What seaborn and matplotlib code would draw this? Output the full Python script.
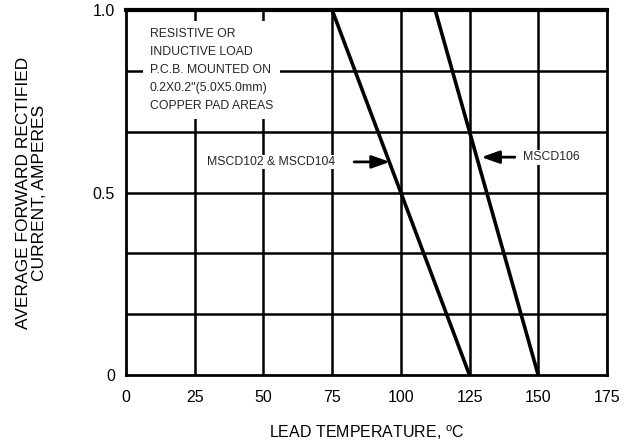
import matplotlib
matplotlib.use("Agg")
import matplotlib.pyplot as plt
import seaborn as sns
import pandas as pd

# Data
temp_102_104 = [0, 75, 125]
curr_102_104 = [1.0, 1.0, 0.0]
temp_106 = [0, 112.5, 150]
curr_106 = [1.0, 1.0, 0.0]
x_ticks = [0, 25, 50, 75, 100, 125, 150, 175]
y_ticks = [0, 0.5, 1.0]
y_ticklabels = ["0", "0.5", "1.0"]
y_grid = [1/6, 2/6, 3/6, 4/6, 5/6]
x_grid = [25, 50, 75, 100, 125, 150]

df = pd.concat([
    pd.DataFrame({"temp": temp_102_104, "current": curr_102_104, "dev": "MSCD102 & MSCD104"}),
    pd.DataFrame({"temp": temp_106, "current": curr_106, "dev": "MSCD106"}),
])

sns.set_theme(style="white")
plt.rcParams["font.family"] = ["Liberation Sans", "DejaVu Sans"]

fig = plt.figure(figsize=(6.27, 4.45), dpi=100)
ax = fig.add_axes([0.201, 0.157, 0.767, 0.8205])

for xv in x_grid:
    ax.axvline(xv, color="black", lw=1.8, zorder=1)
for yv in y_grid:
    ax.axhline(yv, color="black", lw=1.8, zorder=1)

sns.lineplot(data=df, x="temp", y="current", units="dev", estimator=None,
             color="black", lw=2.6, ax=ax, legend=False, zorder=3)

ax.set_xlim(0, 175)
ax.set_ylim(0, 1.0)
ax.set_xticks(x_ticks)
ax.set_xticklabels([str(v) for v in x_ticks], fontsize=11.5)
ax.set_yticks(y_ticks)
ax.set_yticklabels(y_ticklabels, fontsize=11.5)
ax.tick_params(axis="x", length=0, pad=11, colors="black")
ax.tick_params(axis="y", length=0, pad=8, colors="black")
for s in ax.spines.values():
    s.set_color("black")
    s.set_linewidth(2)
ax.spines["top"].set_linewidth(3)

ax.set_xlabel("LEAD TEMPERATURE, $^{\\mathregular{o}}$C", fontsize=11.5, labelpad=13, color="black")
ax.set_ylabel("AVERAGE FORWARD RECTIFIED\nCURRENT, AMPERES", fontsize=12.5, labelpad=33,
              color="black", linespacing=1.05)

ax.text(8.7, 0.952,
        "RESISTIVE OR\nINDUCTIVE LOAD\nP.C.B. MOUNTED ON\n0.2X0.2\"(5.0X5.0mm)\nCOPPER PAD AREAS",
        fontsize=8.8, va="top", ha="left", linespacing=1.68, zorder=2,
        bbox=dict(facecolor="white", edgecolor="none", pad=5))

ax.annotate("", xy=(97, 0.584), xytext=(82, 0.584),
            arrowprops=dict(arrowstyle="-|>,head_length=0.9,head_width=0.32", color="black", lw=2),
            zorder=4)
ax.text(76, 0.584, "MSCD102 & MSCD104", fontsize=8.8, ha="right", va="center",
        zorder=4, bbox=dict(facecolor="white", edgecolor="none", pad=1))
ax.annotate("", xy=(128.3, 0.597), xytext=(142.5, 0.597),
            arrowprops=dict(arrowstyle="-|>,head_length=0.9,head_width=0.32", color="black", lw=2),
            zorder=4)
ax.text(144.3, 0.597, "MSCD106", fontsize=8.8, ha="left", va="center",
        zorder=4, bbox=dict(facecolor="white", edgecolor="none", pad=1))

fig.savefig("out.png", dpi=100)
